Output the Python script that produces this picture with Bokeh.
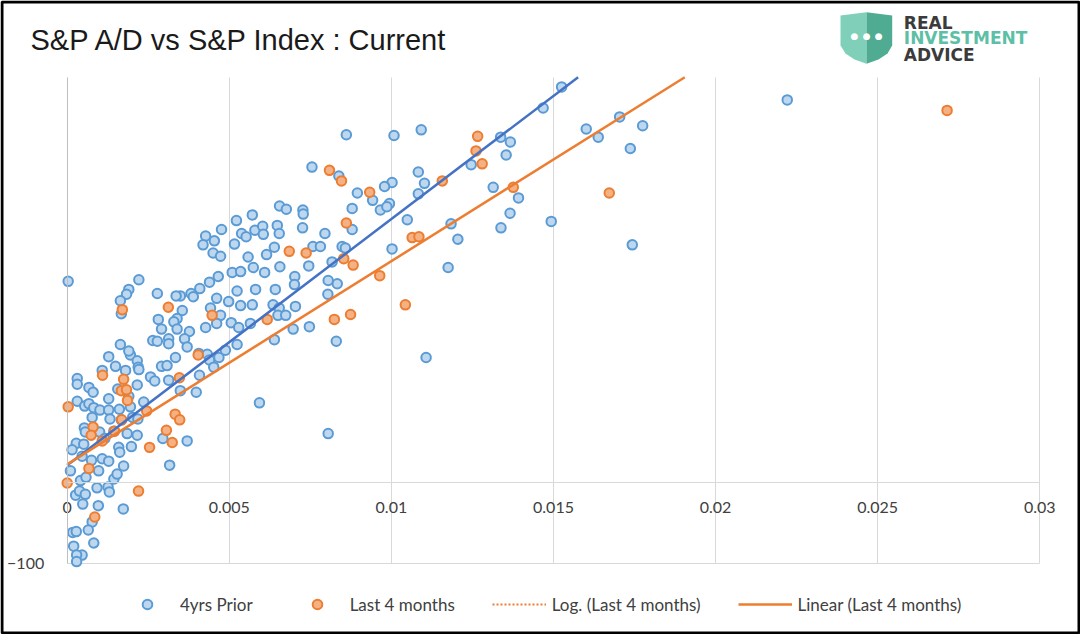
from bokeh.plotting import figure
from bokeh.models import (Range1d, FixedTicker, NumeralTickFormatter, Legend,
                          LegendItem, Label, PolyAnnotation, BoxAnnotation)
from bokeh.embed import file_html
from bokeh.resources import INLINE

# ---------------- data ----------------
title_text = "S&P A/D vs S&P Index : Current"
x_ticks = [0, 0.005, 0.01, 0.015, 0.02, 0.025, 0.03]
y_ticks = [-100]
x_bounds = (0, 0.03)
y_bounds = (-100, 500)

prior_x = [0.02221, 0.01525, 0.01468, 0.01337, 0.01367, 0.01354, 0.01601, 0.01638, 0.01704, 0.01775,
           0.01737, 0.01314, 0.01392, 0.01366, 0.01338, 0.01493, 0.01743, 0.01246, 0.01083, 0.01102,
           0.01083, 0.01002, 0.00979, 0.00994, 0.00966, 0.00986, 0.00942, 0.00895, 0.00879, 0.01049,
           0.00879, 0.01184, 0.01205, 0.01002, 0.00848, 0.00858, 0.00817, 0.01175, 0.00833, 0.00830,
           0.01107, 0.00804, 0.00838, 0.00861, 0.01008, 0.01092, 0.00755, 0.00655, 0.00676, 0.00727,
           0.00728, 0.00571, 0.00522, 0.00476, 0.00427, 0.00419, 0.00454, 0.00450, 0.00473, 0.00516,
           0.00538, 0.00552, 0.00579, 0.00603, 0.00605, 0.00648, 0.00654, 0.00726, 0.00795, 0.00639,
           0.00758, 0.00781, 0.00615, 0.00558, 0.00574, 0.00609, 0.00656, 0.00745, 0.00702, 0.00701,
           0.00805, 0.00509, 0.00535, 0.00466, 0.00439, 0.00409, 0.00382, 0.00389, 0.00349, 0.00581,
           0.00642, 0.00524, 0.00461, 0.00498, 0.00535, 0.00571, 0.00442, 0.00473, 0.00635, 0.00654,
           0.00704, 0.00650, 0.00674, 0.00355, 0.00461, 0.00506, 0.00529, 0.00565, 0.00427, 0.00377,
           0.00362, 0.00370, 0.00697, 0.00747, 0.00639, 0.00524, 0.00003, 0.00221, 0.00190, 0.00183,
           0.00164, 0.00167, 0.00278, 0.00336, 0.00593, 0.00805, 0.00339, 0.00329, 0.00339, 0.00281,
           0.00291, 0.00264, 0.00278, 0.00313, 0.00313, 0.00406, 0.00432, 0.00439, 0.00452, 0.00468,
           0.00488, 0.00408, 0.00398, 0.00128, 0.00149, 0.00180, 0.00195, 0.00190, 0.00216, 0.00219,
           0.00108, 0.00164, 0.00334, 0.00291, 0.00308, 0.00221, 0.00031, 0.00031, 0.00067, 0.00080,
           0.00216, 0.00257, 0.00270, 0.00313, 0.00349, 0.00128, 0.00156, 0.00190, 0.00236, 0.00031,
           0.00054, 0.00067, 0.00082, 0.00101, 0.00128, 0.00077, 0.00132, 0.00161, 0.00195, 0.00167,
           0.00202, 0.00218, 0.00053, 0.00056, 0.00100, 0.00116, 0.00144, 0.00185, 0.00216, 0.00198,
           0.00295, 0.00370, 0.00316, 0.00028, 0.00051, 0.00015, 0.00046, 0.00075, 0.00108, 0.00128,
           0.00159, 0.00162, 0.00174, 0.00010, 0.00041, 0.00058, 0.00097, 0.00144, 0.00154, 0.00092,
           0.00126, 0.00130, 0.00026, 0.00038, 0.00056, 0.00048, 0.00096, 0.00173, 0.00077, 0.00065,
           0.00017, 0.00028, 0.00082, 0.00020, 0.00046, 0.00029, 0.00029]
prior_y = [472, 488, 462, 426, 420, 404, 436, 426, 451, 440,
           412, 364, 351, 332, 314, 322, 293, 392, 383, 369,
           356, 370, 365, 344, 336, 340, 348, 357, 338, 324,
           312, 319, 300, 288, 291, 289, 272, 265, 245, 174,
           154, 232, 378, 429, 428, 435, 389, 341, 337, 336,
           331, 330, 323, 312, 304, 293, 298, 283, 279, 294,
           307, 303, 311, 316, 306, 317, 307, 314, 307, 290,
           291, 291, 281, 278, 265, 259, 266, 267, 254, 244,
           249, 259, 260, 254, 247, 239, 233, 229, 230, 238,
           238, 236, 227, 223, 218, 219, 215, 206, 219, 215,
           217, 206, 206, 212, 196, 197, 191, 196, 191, 186,
           177, 167, 189, 192, 176, 170, 248, 250, 238, 232,
           224, 208, 233, 230, 98, 60, 202, 198, 189, 201,
           189, 175, 174, 177, 171, 159, 158, 151, 142, 154,
           163, 132, 111, 155, 143, 138, 157, 162, 150, 142,
           138, 170, 154, 143, 144, 139, 128, 121, 117, 111,
           120, 130, 125, 126, 113, 103, 115, 106, 99, 100,
           94, 97, 92, 89, 89, 80, 78, 90, 93, 77,
           80, 78, 67, 62, 62, 54, 63, 60, 58, 44,
           54, 51, 21, 48, 47, 40, 32, 27, 29, 26,
           43, 37, 20, 14, 2, 6, 14, 4, 10, -7,
           -6, -12, -16, -11, -15, -27, -29, -33, -49, -59,
           -62, -61, -75, -79, -90, -90, -98]

last_x = [0.02714, 0.01266, 0.01261, 0.01280, 0.01376, 0.01672, 0.01157, 0.00933, 0.00861, 0.01064,
          0.01085, 0.00853, 0.00882, 0.00964, 0.01043, 0.00824, 0.00874, 0.00809, 0.00846, 0.00685,
          0.00737, 0.00447, 0.00617, 0.00170, 0.00312, 0.00404, 0.00109, 0.00174, 0.00167, 0.00183,
          0.00186, 0.00346, 0.00003, 0.00245, 0.00333, 0.00347, 0.00306, 0.00324, 0.00254, 0.00168,
          0.00080, 0.00074, 0.00146, 0.00108, 0.00067, 0.00000, 0.00220, 0.00085]
last_y = [459, 427, 409, 393, 364, 357, 372, 358, 320, 302,
          303, 276, 268, 255, 219, 201, 207, 385, 372, 285,
          283, 206, 201, 213, 216, 157, 132, 127, 113, 114,
          101, 129, 93, 88, 84, 77, 64, 49, 43, 77,
          68, 58, 63, 51, 17, -1, -11, -43]

# linear trend lines (end points, up to the top of the plot area)
trend_prior_x = [0.0, 0.01576]
trend_prior_y = [21, 500]
trend_last_x = [0.0, 0.01905]
trend_last_y = [22, 500]
# the log trend line is not visible in the plot area; it only appears in the legend
trend_log_x = [float("nan")]
trend_log_y = [float("nan")]

legend_labels = ["4yrs Prior", "Last 4 months", "Log. (Last 4 months)", "Linear (Last 4 months)"]
logo_lines = ["REAL", "INVESTMENT", "ADVICE"]

# ---------------- figure ----------------
W, H = 1080, 634
# plot area in canvas pixels (x=0 at 66.7px, 0.03 at 1039.3px, y=0 at 481.7px, 0.81 px per unit)
PX_PER_X = 32420.0
PX_PER_Y = 0.81
X0_PX, Y0_PX = 66.7, 481.7
x_range = Range1d(-X0_PX / PX_PER_X, (W - X0_PX) / PX_PER_X)
y_range = Range1d(-(H - Y0_PX) / PX_PER_Y, Y0_PX / PX_PER_Y)

p = figure(width=W, height=H, output_backend="svg", toolbar_location=None,
           x_range=x_range, y_range=y_range,
           min_border_left=0, min_border_right=0, min_border_top=0, min_border_bottom=0,
           title=None)
p.outline_line_color = None
p.background_fill_color = "white"
p.border_fill_color = "white"

tick_font = "Lato"
xa = p.xaxis[0]
xa.fixed_location = 0
xa.bounds = x_bounds
xa.ticker = FixedTicker(ticks=x_ticks)
xa.formatter = NumeralTickFormatter(format="0.[000]")
xa.axis_line_color = "#d9d9d9"
xa.axis_line_width = 1
xa.major_tick_line_color = None
xa.minor_tick_line_color = None
xa.major_label_standoff = 14
xa.major_label_text_font = tick_font
xa.major_label_text_font_size = "16px"
xa.major_label_text_color = "#404040"

ya = p.yaxis[0]
ya.fixed_location = 0
ya.bounds = y_bounds
ya.ticker = FixedTicker(ticks=y_ticks)
ya.axis_line_color = "#bfbfbf"
ya.major_tick_line_color = None
ya.minor_tick_line_color = None
ya.major_label_standoff = 17
ya.major_label_text_font = tick_font
ya.major_label_text_font_size = "16px"
ya.major_label_text_color = "#404040"

xg = p.xgrid[0]
yg = p.ygrid[0]
xg.ticker = FixedTicker(ticks=x_ticks)
yg.ticker = FixedTicker(ticks=y_ticks)
try:
    xg.cross_bounds = y_bounds
    yg.cross_bounds = x_bounds
    xg.grid_line_color = "#d9d9d9"
    yg.grid_line_color = "#d9d9d9"
except Exception:
    xg.grid_line_color = None
    yg.grid_line_color = None
    p.segment(x0=x_ticks, x1=x_ticks, y0=[y_bounds[0]] * len(x_ticks), y1=[y_bounds[1]] * len(x_ticks),
              line_color="#d9d9d9", line_width=1)
    p.segment(x0=[x_bounds[0]], x1=[x_bounds[1]], y0=y_ticks, y1=y_ticks,
              line_color="#d9d9d9", line_width=1)

r_prior = p.scatter(prior_x, prior_y, size=9.5, fill_color="#bdd7ee",
                    line_color="#5b9bd5", line_width=2)
r_last = p.scatter(last_x, last_y, size=9.5, fill_color="#f4b183",
                   line_color="#ed7d31", line_width=2)
r_tp = p.line(trend_prior_x, trend_prior_y, line_color="#4472c4", line_width=2.5)
r_tl = p.line(trend_last_x, trend_last_y, line_color="#ed7d31", line_width=2.5)
r_log = p.line(trend_log_x, trend_log_y, line_color="#ed7d31", line_width=2, line_dash="2 2")

legend = Legend(items=[LegendItem(label=legend_labels[0], renderers=[r_prior]),
                       LegendItem(label=legend_labels[1], renderers=[r_last]),
                       LegendItem(label=legend_labels[2], renderers=[r_log]),
                       LegendItem(label=legend_labels[3], renderers=[r_tl])],
                orientation="horizontal", location=(120, 18),
                glyph_width=54, glyph_height=24, label_height=24,
                label_standoff=6, spacing=37, padding=0, margin=0,
                border_line_color=None, background_fill_alpha=0,
                label_text_font=tick_font, label_text_font_size="17px",
                label_text_color="#404040")
p.add_layout(legend)

# title (screen units: x from left, y from bottom of the canvas)
p.add_layout(Label(x=30, y=H - 39, x_units="screen", y_units="screen", text=title_text,
                   text_font="Liberation Sans", text_font_size="29px", text_color="#1a1a1a",
                   text_baseline="middle"))

# logo (shield + text)
p.add_layout(PolyAnnotation(xs=[840, 866, 866, 854, 845, 840],
                            ys=[H - 15, H - 11.7, H - 63.3, H - 59, H - 53, H - 45],
                            xs_units="screen", ys_units="screen",
                            fill_color="#80cfb8", fill_alpha=1, line_color=None))
p.add_layout(PolyAnnotation(xs=[866, 891.7, 891.7, 887, 878, 866],
                            ys=[H - 11.7, H - 15, H - 45, H - 53, H - 59, H - 63.3],
                            xs_units="screen", ys_units="screen",
                            fill_color="#4fab92", fill_alpha=1, line_color=None))
for dx in (854.0, 866.3, 878.3):
    p.add_layout(Label(x=dx, y=H - 35, x_units="screen", y_units="screen", text="\u25cf",
                       text_font="DejaVu Sans", text_font_size="9px", text_color="white",
                       text_align="center", text_baseline="middle"))
for txt, yy, col in zip(logo_lines, (22.0, 37.5, 54.2), ("#3b3b3b", "#5dbfa5", "#3b3b3b")):
    p.add_layout(Label(x=903.3, y=H - yy, x_units="screen", y_units="screen", text=txt,
                       text_font="DejaVu Sans", text_font_size="17px", text_font_style="bold",
                       text_color=col, text_baseline="middle"))

# outer black frame
p.add_layout(BoxAnnotation(left=1.5, right=W - 1.5, bottom=1.5, top=H - 1.5,
                           left_units="screen", right_units="screen",
                           bottom_units="screen", top_units="screen",
                           fill_color=None, line_color="black", line_alpha=1.0, line_width=3))

open("out.html", "w").write(file_html(p, INLINE))
